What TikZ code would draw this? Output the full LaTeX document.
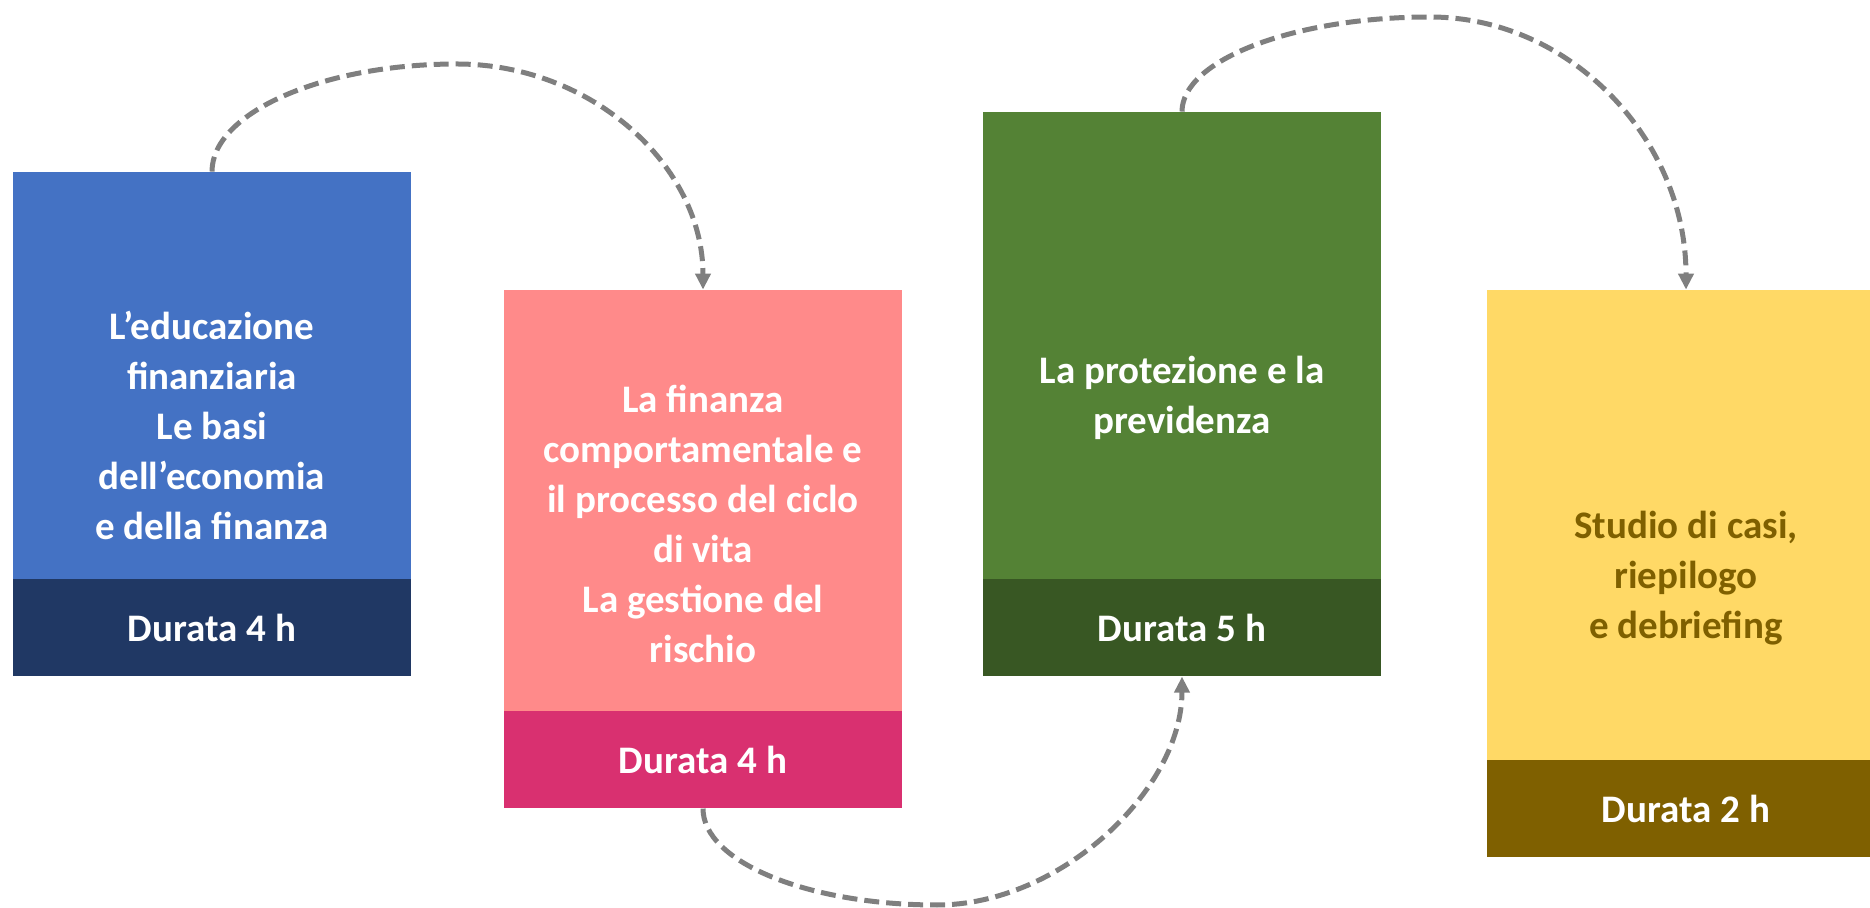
\documentclass[tikz,border=0pt]{standalone}
\usepackage{fontspec}
\setmainfont{Carlito}
\usetikzlibrary{arrows.meta,positioning}

\begin{document}
\begin{tikzpicture}[x=0.5pt,y=0.5pt,yscale=-1,xscale=1,
  box/.style={rectangle,inner sep=0pt,minimum width=199pt,draw=none},
  band/.style={box,minimum height=48.5pt,text=white,font=\fontsize{19.5}{25}\selectfont\bfseries},
  txt/.style={inner sep=0pt,align=center,text=white,font=\fontsize{19.5}{25}\selectfont\bfseries},
  link/.style={color={rgb, 255:red, 127; green, 127; blue, 127},line width=2.5pt,dash pattern=on 7.5pt off 3.5pt,-{Triangle[width=7.5pt,length=8pt]}}]
\useasboundingbox (0,0) rectangle (1870,908);

%Shape: Rectangle [educ]
\node[box,fill={rgb, 255:red, 68; green, 114; blue, 196},minimum height=203.5pt] (educ) at (212,375.5) {};
\node[band,fill={rgb, 255:red, 32; green, 56; blue, 100},below=-0.3pt of educ] (educband) {Durata 4 h};
%Shape: Rectangle [comport]
\node[box,fill={rgb, 255:red, 255; green, 138; blue, 138},minimum height=210.5pt] (comport) at (703,500.5) {};
\node[band,fill={rgb, 255:red, 217; green, 48; blue, 112},below=-0.3pt of comport] (comportband) {Durata 4 h};
%Shape: Rectangle [protez]
\node[box,fill={rgb, 255:red, 84; green, 130; blue, 53},minimum height=233.5pt] (protez) at (1182,345.5) {};
\node[band,fill={rgb, 255:red, 56; green, 87; blue, 35},below=-0.3pt of protez] (protezband) {Durata 5 h};
%Shape: Rectangle [studio]
\node[box,fill={rgb, 255:red, 255; green, 217; blue, 102},minimum height=235pt] (studio) at (1686,525) {};
\node[band,fill={rgb, 255:red, 127; green, 96; blue, 0},below=-0.3pt of studio] (studioband) {Durata 2 h};

% Text Node
\node[txt] (eductext) at (212,425) {L’educazione\\finanziaria\\Le basi\\dell’economia\\e della finanza};
% Text Node
\node[txt] (comporttext) at (703,524) {La finanza\\comportamentale e\\il processo del ciclo\\di vita\\La gestione del\\rischio};
% Text Node
\node[txt] (proteztext) at (1182,398) {La protezione e la\\previdenza};
% Text Node
\node[txt,text={rgb, 255:red, 127; green, 96; blue, 0}] (studiotext) at (1686,578) {Studio di casi,\\riepilogo\\e debriefing};

%Curve Lines
\coordinate (top1) at (457,64);
\coordinate (bot1) at (937,905);
\coordinate (top2) at (1430,17);
\draw[link] (educ.north) .. controls (212,113) and (322,64) .. (top1) .. controls (592,64) and (703,166) .. (comport.north);
\draw[link] (comportband.south) .. controls (703,862) and (808,905) .. (bot1) .. controls (1060,905) and (1182,790) .. (protezband.south);
\draw[link] (protez.north) .. controls (1182,60) and (1294,17) .. (top2) .. controls (1571,17) and (1686,140) .. (studio.north);

\end{tikzpicture}
\end{document}
